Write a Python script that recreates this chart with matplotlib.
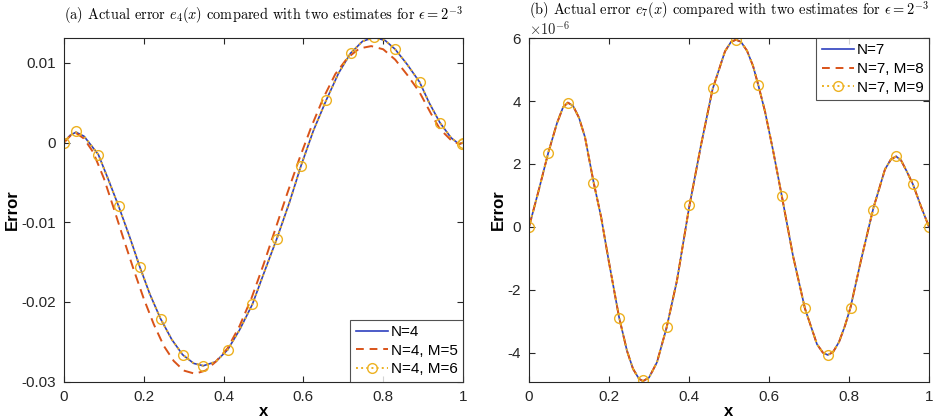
import matplotlib
matplotlib.use("Agg")
from matplotlib import pyplot as plt
from matplotlib.lines import Line2D

plt.rcParams['font.family'] = ['Liberation Sans', 'DejaVu Sans']
plt.rcParams['mathtext.fontset'] = 'cm'
plt.rcParams['axes.unicode_minus'] = False

# ---- panel (a): e_4(x) ----
xa = [0, 0.015, 0.03, 0.05, 0.086, 0.11, 0.137, 0.165, 0.19, 0.215, 0.242, 0.27,
      0.297, 0.325, 0.349, 0.38, 0.41, 0.44, 0.472, 0.50, 0.533, 0.565, 0.594,
      0.625, 0.657, 0.688, 0.718, 0.748, 0.777, 0.805, 0.83, 0.86, 0.891, 0.915,
      0.942, 0.97, 0.99, 1.0]
e4 = [0, 0.0009, 0.0013, 0.0008, -0.0015, -0.0045, -0.0080, -0.0119, -0.0156,
      -0.0190, -0.0221, -0.0247, -0.0266, -0.0277, -0.0280, -0.0275, -0.0260,
      -0.0235, -0.0203, -0.0165, -0.0121, -0.0075, -0.0029, 0.0015, 0.0053, 0.0087,
      0.0112, 0.0127, 0.0132, 0.0128, 0.0117, 0.0098, 0.0076, 0.0050, 0.0025,
      0.0006, -0.0002, 0]
xa_m5 = [0, 0.015, 0.03, 0.05, 0.073, 0.10, 0.125, 0.15, 0.175, 0.20, 0.225, 0.25,
         0.275, 0.30, 0.328, 0.355, 0.38, 0.41, 0.44, 0.47, 0.50, 0.53, 0.56, 0.59,
         0.62, 0.65, 0.68, 0.71, 0.74, 0.77, 0.80, 0.83, 0.86, 0.89, 0.92, 0.942,
         0.97, 0.99, 1.0]
est_m5 = [0, 0.0008, 0.0012, 0.0005, -0.0012, -0.0045, -0.0083, -0.0122, -0.0160,
          -0.0196, -0.0228, -0.0255, -0.0274, -0.0286, -0.0290, -0.0286, -0.0275,
          -0.0258, -0.0230, -0.0195, -0.0153, -0.0108, -0.0063, -0.0020, 0.0020,
          0.0056, 0.0086, 0.0106, 0.0118, 0.0121, 0.0117, 0.0104, 0.0085, 0.0064,
          0.0036, 0.0017, 0.0003, -0.0002, 0]
# M=6 estimate coincides with e4; circle markers at these points
xa_mk = [0, 0.03, 0.086, 0.137, 0.19, 0.242, 0.297, 0.349, 0.41, 0.472, 0.533,
         0.594, 0.657, 0.718, 0.777, 0.83, 0.891, 0.942, 0.997, 1.0]
m6_mk = [0, 0.0014, -0.0015, -0.0080, -0.0156, -0.0221, -0.0266, -0.0280, -0.0260,
         -0.0203, -0.0121, -0.0029, 0.0053, 0.0112, 0.0132, 0.0117, 0.0076, 0.0025,
         -0.0002, 0]

# ---- panel (b): e_7(x), values in units of 1e-6 ----
xb = [0, 0.025, 0.048, 0.07, 0.085, 0.097, 0.11, 0.125, 0.14, 0.161, 0.18, 0.20,
      0.225, 0.245, 0.26, 0.275, 0.285, 0.30, 0.32, 0.344, 0.37, 0.40, 0.43, 0.459,
      0.49, 0.505, 0.5175, 0.53, 0.545, 0.56, 0.573, 0.59, 0.61, 0.633, 0.66, 0.69,
      0.72, 0.735, 0.747, 0.76, 0.775, 0.79, 0.804, 0.83, 0.861, 0.89, 0.905,
      0.918, 0.93, 0.945, 0.96, 0.98, 1.0]
e7 = [0, 1.2, 2.35, 3.3, 3.8, 3.95, 3.85, 3.47, 2.85, 1.45, 0.33, -1.13, -2.86,
      -3.94, -4.51, -4.83, -4.9, -4.79, -4.30, -3.2, -1.7, 0.6, 2.6, 4.38, 5.58,
      5.88, 5.95, 5.88, 5.6, 5.12, 4.52, 3.67, 2.44, 0.92, -0.92, -2.6, -3.73,
      -4.0, -4.07, -3.98, -3.66, -3.14, -2.55, -1.06, 0.6, 1.83, 2.15, 2.24, 2.12,
      1.75, 1.35, 0.65, 0]
est_m8 = list(e7)
xb_mk = [0, 0.048, 0.097, 0.161, 0.225, 0.284, 0.344, 0.40, 0.459, 0.5175, 0.573,
         0.633, 0.69, 0.747, 0.804, 0.861, 0.918, 0.96, 1.0]
m9_mk = [0, 2.35, 3.95, 1.40, -2.88, -4.87, -3.17, 0.69, 4.42, 5.95, 4.50, 0.97,
         -2.59, -4.07, -2.59, 0.53, 2.24, 1.35, 0]

blue = '#2e3fbf'
red = '#D95319'
yellow = '#EDB120'

fig = plt.figure(figsize=(9.33, 4.19), dpi=100)
ax1 = fig.add_axes([0.0686, 0.089, 0.4277, 0.820])
ax2 = fig.add_axes([0.567, 0.089, 0.4287, 0.820])


def style(ax):
    ax.tick_params(direction='in', top=True, right=True, length=4, labelsize=11,
                   color='#262626', labelcolor='#262626', pad=6)
    for s in ax.spines.values():
        s.set_color('#262626')
        s.set_linewidth(0.8)
    ax.set_xlim(0, 1)
    ax.set_xticks([0, 0.2, 0.4, 0.6, 0.8, 1])
    ax.set_xticklabels(['0', '0.2', '0.4', '0.6', '0.8', '1'])
    ax.set_xlabel('x', fontsize=12, fontweight='bold', labelpad=0)
    ax.set_ylabel('Error', fontsize=12, fontweight='bold', labelpad=1)


def legend_handles():
    return [Line2D([], [], color=blue, lw=1.2),
            Line2D([], [], ls='--', color=red, lw=1.4, dashes=(4, 3)),
            Line2D([], [], ls=':', color=yellow, lw=1.4, marker='o', mfc='none',
                   ms=7)]


leg_kw = dict(borderaxespad=0, fancybox=False, edgecolor='#262626', fontsize=11,
              handlelength=2.1, handletextpad=0.2, labelspacing=0.3, borderpad=0.35)

# left
ax1.plot(xa, e4, color=blue, lw=1.2)
ax1.plot(xa_m5, est_m5, '--', color=red, lw=1.4, dashes=(5, 3))
ax1.plot(xa, e4, ':', color=yellow, lw=1.4)
ax1.plot(xa_mk, m6_mk, 'o', color=yellow, mfc='none', ms=7, mew=1.0)
style(ax1)
ax1.set_ylim(-0.03, 0.0131)
ax1.set_yticks([-0.03, -0.02, -0.01, 0, 0.01])
ax1.set_yticklabels(['-0.03', '-0.02', '-0.01', '0', '0.01'])
ax1.set_title(r'(a) Actual error $e_4(x)$ compared with two estimates for $\epsilon = 2^{-3}$',
              family='cmr10', fontsize=10.4, pad=13)
leg = ax1.legend(legend_handles(), ['N=4', 'N=4, M=5', 'N=4, M=6'],
                 loc='lower right', **leg_kw)
leg.get_frame().set_linewidth(0.8)

# right
ax2.plot(xb, [v * 1e-6 for v in e7], color=blue, lw=1.2)
ax2.plot(xb, [v * 1e-6 for v in est_m8], '--', color=red, lw=1.4, dashes=(5, 3))
ax2.plot(xb, [v * 1e-6 for v in e7], ':', color=yellow, lw=1.4)
ax2.plot(xb_mk, [v * 1e-6 for v in m9_mk], 'o', color=yellow, mfc='none', ms=7, mew=1.0)
style(ax2)
ax2.set_ylim(-4.92e-6, 6e-6)
ax2.set_yticks([-4e-6, -2e-6, 0, 2e-6, 4e-6, 6e-6])
ax2.set_yticklabels(['-4', '-2', '0', '2', '4', '6'])
ax2.text(0, 1.001, r'$\times 10^{-6}$', transform=ax2.transAxes, fontsize=10.5,
         color='#262626', ha='left', va='bottom', family='DejaVu Sans')
ax2.set_title(r'(b) Actual error $e_7(x)$ compared with two estimates for $\epsilon = 2^{-3}$',
              family='cmr10', fontsize=10.4, pad=17)
leg = ax2.legend(legend_handles(), ['N=7', 'N=7, M=8', 'N=7, M=9'],
                 loc='upper right', **leg_kw)
leg.get_frame().set_linewidth(0.8)

fig.savefig('out.png', dpi=100)
